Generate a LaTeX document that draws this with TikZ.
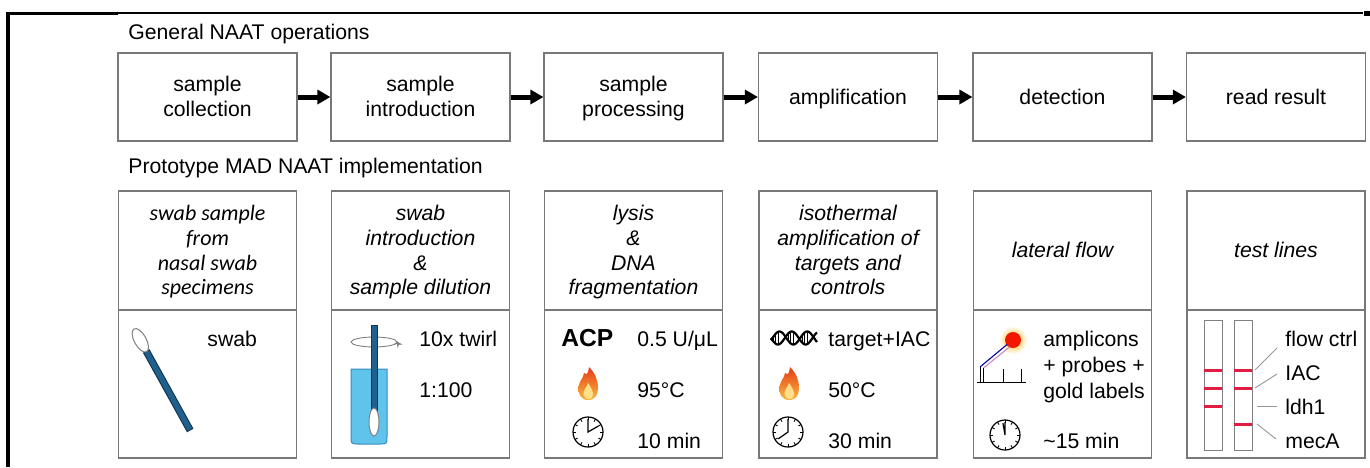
\documentclass[tikz,border=0pt]{standalone}
\usepackage{fontspec}
\setmainfont{Liberation Sans}
\newfontfamily\humanist{Carlito}
\usetikzlibrary{arrows.meta}

\definecolor{boxgray}{RGB}{120,120,120}
\definecolor{swabblue}{RGB}{32,96,140}
\definecolor{swabdark}{RGB}{18,55,85}
\definecolor{tubeblue}{RGB}{95,195,235}
\definecolor{tubeedge}{RGB}{55,140,190}
\definecolor{flameTop}{RGB}{228,60,25}
\definecolor{flameMid}{RGB}{243,118,32}
\definecolor{flameBot}{RGB}{250,185,60}
\definecolor{flameIn}{RGB}{255,222,140}
\definecolor{lineRed}{RGB}{225,30,65}
\definecolor{leaderGray}{RGB}{150,150,150}

\tikzset{
  pics/flame/.style={code={
    \shade[top color=flameTop, middle color=flameMid, bottom color=flameBot]
      (0,16) .. controls (-8,16) and (-10,9) .. (-9.5,3)
      .. controls (-9,-3) and (-4.5,-6) .. (-4,-11)
      .. controls (-1,-9) and (0,-10) .. (1,-17)
      .. controls (7,-11) and (10,-4) .. (10,4)
      .. controls (10,11) and (7,16) .. (0,16) -- cycle;
    \fill[flameIn] (0.5,15) .. controls (-3,15) and (-5,11) .. (-4.5,8)
      .. controls (-4,5) and (-1,3) .. (0,-1)
      .. controls (3,3) and (5.5,8) .. (5,11)
      .. controls (4.5,14) and (3,15) .. (0.5,15) -- cycle;
  }},
  pics/clock/.style={code={
    \draw[line width=0.6pt] (0,0) circle[radius=15];
    \foreach \a in {0,30,...,330}
      \draw[line width=0.45pt] (\a:12) -- (\a:15);
    \draw[line width=0.6pt] (-90:13) -- (0,0) -- (#1:12);
  }}
}

\begin{document}
\begin{tikzpicture}[x=0.5pt,y=-0.5pt,
  font=\fontsize{10.6}{12.5}\selectfont,
  opbox/.style={draw=boxgray, line width=0.6pt, minimum width=89.5pt,
    minimum height=44pt, align=center, inner sep=2pt, text depth=0.4pt},
  headbox/.style={draw=boxgray, line width=0.6pt, minimum width=89pt,
    minimum height=59.5pt, align=center, inner sep=2pt, text depth=0.4pt,
    font=\fontsize{10.6}{12.4}\selectfont\itshape},
  bodybox/.style={draw=boxgray, line width=0.6pt, minimum width=89pt,
    minimum height=74pt},
  flowarrow/.style={line width=2.5pt, -{Triangle[length=6.5pt,width=7pt]}},
  lbl/.style={anchor=base west, inner sep=0pt},
  leader/.style={draw=leaderGray, line width=0.45pt},
  testline/.style={draw=lineRed, line width=1.5pt},
  strip/.style={draw=gray, line width=0.5pt}
]
\useasboundingbox (0,0) rectangle (1370,467);

% frame rules
\draw[line width=1.5pt] (7,13) -- (118,13);
\draw[line width=1pt] (118,13) -- (1363,13);
\fill (1364,11) rectangle (1370,15.5);
\draw[line width=1.6pt] (8,12) -- (8,467);

% general operations
\node[lbl] (gen) at (128,39.5) {General NAAT operations};
\node[opbox] (op1) at (207.5,97) {sample\\collection};
\node[opbox] (op2) at (420.5,97) {sample\\introduction};
\node[opbox] (op3) at (633.5,97) {sample\\processing};
\node[opbox] (op4) at (848,97) {amplification};
\node[opbox] (op5) at (1062.5,97) {detection};
\node[opbox] (op6) at (1276,97) {read result};
\foreach \a/\b in {op1/op2,op2/op3,op3/op4,op4/op5,op5/op6}
  \draw[flowarrow] (\a.east) -- (\b.west);

% prototype implementation
\node[lbl] (proto) at (128,173) {Prototype MAD NAAT implementation};
\node[headbox, font=\fontsize{11}{12.4}\selectfont\humanist\itshape] (hd1) at (207.5,250.5)
  {swab sample\\from\\nasal swab\\specimens};
\node[headbox] (hd2) at (420.5,250.5) {swab\\introduction\\\&\\sample dilution};
\node[headbox] (hd3) at (633.5,250.5) {lysis\\\&\\DNA\\fragmentation};
\node[headbox] (hd4) at (848,250.5) {isothermal\\amplification of\\targets and\\controls};
\node[headbox] (hd5) at (1062.5,250.5) {lateral flow};
\node[headbox] (hd6) at (1276,250.5) {test lines};

\node[bodybox] (bd1) at (207.5,384) {};
\node[bodybox] (bd2) at (420.5,384) {};
\node[bodybox] (bd3) at (633.5,384) {};
\node[bodybox] (bd4) at (848,384) {};
\node[bodybox] (bd5) at (1062.5,384) {};
\node[bodybox] (bd6) at (1276,384) {};

% --- sample collection: swab
\filldraw[fill=swabblue, draw=swabdark, line width=0.5pt]
  (149.2,349.8) -- (192.8,428.5) -- (187.2,431.6) -- (143.6,352.9) -- cycle;
\filldraw[fill=white, draw=gray, line width=0.5pt, rotate around={-61:(140.3,340.3)}]
  (140.3,340.3) ellipse [x radius=13, y radius=6];
\node[lbl] (t1a) at (207,346) {swab};

% --- sample introduction: tube with swab
\filldraw[fill=tubeblue, draw=tubeedge, line width=0.5pt]
  (351,369) -- (351,436) .. controls (351,444) .. (359,444) -- (379,444)
  .. controls (387,444) .. (387,436) -- (387,369) -- cycle;
\draw[gray, line width=0.45pt] (374,342) ellipse [x radius=23, y radius=5];
\draw[gray, line width=0.45pt, -{Stealth[length=3pt,width=3pt]}]
  (374,342) ++(30:23 and 5) arc[start angle=30, end angle=-8, x radius=23, y radius=5];
\filldraw[fill=swabblue, draw=swabdark, line width=0.5pt] (371,325) rectangle (377,412);
\filldraw[fill=white, draw=gray, line width=0.5pt] (374,422) ellipse [x radius=5, y radius=14];
\node[lbl] (t2a) at (419,346) {10x twirl};
\node[lbl] (t2b) at (419,397) {1:100};

% --- sample processing: ACP, heat, time
\node[lbl, font=\fontsize{12.3}{14}\selectfont\bfseries] (t3a) at (561,346) {ACP};
\node[lbl] (t3b) at (637,346) {0.5 U/μL};
\pic at (588,384) {flame};
\node[lbl] (t3c) at (637,397) {95°C};
\pic at (588,432) {clock=-30};
\node[lbl] (t3d) at (637,448) {10 min};

% --- amplification: helix, heat, time
\draw[line width=1.1pt] plot[domain=0:46, samples=90, smooth]
  ({771+\x},{338+6.5*sin(13*\x)});
\draw[line width=1.1pt] plot[domain=0:46, samples=90, smooth]
  ({771+\x},{338+6.5*sin(13*\x+160)});
\foreach \s in {2,4.5,7,17,19.5,22,31,33.5,36}
  \draw[line width=0.45pt] ({771+\s},{338+6.5*sin(13*\s)}) -- ({771+\s},{338+6.5*sin(13*\s+160)});
\node[lbl] (t4a) at (828,346) {target+IAC};
\pic at (789,384) {flame};
\node[lbl] (t4b) at (828,397) {50°C};
\pic at (788,432) {clock=145};
\node[lbl] (t4c) at (828,448) {30 min};

% --- detection: lateral flow probe
\shade[inner color=orange!60!yellow, outer color=white] (1013,340) circle[radius=14];
\shade[inner color=red!85!orange, outer color=red!90!black!80!orange] (1013,340) circle[radius=8];
\draw[line width=0.5pt] (977,382) -- (1026,382);
\draw[line width=0.5pt] (1003,382) -- (1003,369);
\draw[line width=0.5pt] (1021,382) -- (1021,369);
\draw[line width=0.5pt] (980,382) -- (980,367);
\draw[line width=0.5pt] (983.5,382) -- (983.5,368);
\draw[blue!65!black, line width=0.55pt] (980,367) -- (1007,344.5);
\draw[violet!45, line width=0.55pt] (983.5,368) -- (1009.5,347);
\node[lbl] (t5a) at (1043,346) {amplicons};
\node[lbl] (t5b) at (1043,372) {+ probes +};
\node[lbl] (t5c) at (1043,398) {gold labels};
\pic at (1005,435) {clock=-100};
\node[lbl] (t5d) at (1043,448) {\textasciitilde15 min};

% --- read result: test strips
\draw[strip] (1204,320) rectangle (1222,450);
\draw[strip] (1234,320) rectangle (1252,450);
\foreach \y in {370,388,406} \draw[testline] (1204,\y) -- (1222,\y);
\foreach \y in {370,388,424} \draw[testline] (1234,\y) -- (1252,\y);
\node[lbl] (lflow) at (1285,346) {flow ctrl};
\node[lbl] (liac) at (1285,380) {IAC};
\node[lbl] (lldh) at (1285,414) {ldh1};
\node[lbl] (lmec) at (1285,448) {mecA};
\coordinate (s1) at (1255,370); \coordinate (e1) at (1277,348);
\coordinate (s2) at (1255,388); \coordinate (e2) at (1277,374);
\coordinate (s3) at (1257,406); \coordinate (e3) at (1277,406);
\coordinate (s4) at (1257,424); \coordinate (e4) at (1276,439);
\draw[leader] (s1) -- (e1);
\draw[leader] (s2) -- (e2);
\draw[leader] (s3) -- (e3);
\draw[leader] (s4) -- (e4);
\end{tikzpicture}
\end{document}
